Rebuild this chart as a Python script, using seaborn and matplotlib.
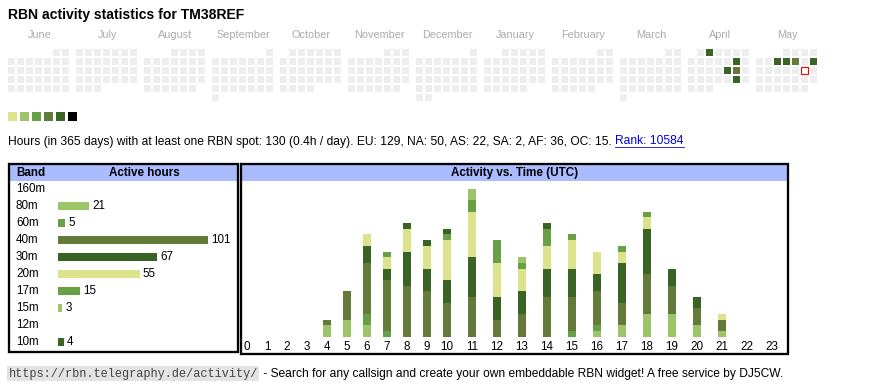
import numpy as np
import pandas as pd
import seaborn as sns
import matplotlib.pyplot as plt
from matplotlib.colors import ListedColormap
from matplotlib.patches import Rectangle

# DATA
callsign = 'TM38REF'
months = ['June', 'July', 'August', 'September', 'October', 'November',
          'December', 'January', 'February', 'March', 'April', 'May']
first_month = '2024-06-01'
active_days = ['2025-04-02', '2025-04-12', '2025-04-18', '2025-04-19', '2025-04-26',
               '2025-05-07', '2025-05-08', '2025-05-09', '2025-05-11']
active_levels = [5, 5, 5, 4, 5, 5, 5, 4, 5]
today = '2025-05-17'
level_colors = ['#dde38c', '#9ec46a', '#68a045', '#637a3a', '#3a6426', '#000000']

bands = ['160m', '80m', '60m', '40m', '30m', '20m', '17m', '15m', '12m', '10m']
band_hours = [0, 21, 5, 101, 67, 55, 15, 3, 0, 4]
band_colors = ['#3a6426', '#9ec46a', '#68a045', '#637a3a', '#3a6426',
               '#dde38c', '#68a045', '#9ec46a', '#637a3a', '#3a6426']

# active hours per UTC hour, per band (160m and 12m empty)
utc_hours = list(range(24))
h80 = [0, 0, 0, 0, 2, 3, 2, 0, 0, 0, 0, 0, 0, 0, 0, 0, 1, 2, 4, 4, 2, 1, 0, 0]
h60 = [0, 0, 0, 0, 0, 0, 2, 1, 0, 0, 0, 0, 0, 0, 0, 1, 1, 0, 0, 0, 0, 0, 0, 0]
h40 = [0, 0, 0, 0, 1, 5, 9, 9, 9, 8, 6, 7, 3, 4, 7, 6, 6, 4, 7, 5, 3, 2, 0, 0]
h30 = [0, 0, 0, 0, 0, 0, 3, 2, 6, 4, 4, 7, 4, 4, 5, 5, 3, 7, 8, 3, 2, 0, 0, 0]
h20 = [0, 0, 0, 0, 0, 0, 2, 2, 4, 4, 7, 8, 6, 4, 4, 5, 4, 2, 2, 0, 0, 1, 0, 0]
h17 = [0, 0, 0, 0, 0, 0, 0, 1, 0, 0, 1, 2, 4, 1, 3, 1, 0, 1, 1, 0, 0, 0, 0, 0]
h15 = [0, 0, 0, 0, 0, 0, 0, 0, 0, 0, 0, 2, 0, 1, 0, 0, 0, 0, 0, 0, 0, 0, 0, 0]
h10 = [0, 0, 0, 0, 0, 0, 0, 0, 1, 1, 1, 0, 0, 0, 1, 0, 0, 0, 0, 0, 0, 0, 0, 0]
stack_bands = ['80m', '60m', '40m', '30m', '20m', '17m', '15m', '10m']
stack_values = [h80, h60, h40, h30, h20, h17, h15, h10]

stats_text = ('Hours (in 365 days) with at least one RBN spot: 130 (0.4h / day). '
              'EU: 129, NA: 50, AS: 22, SA: 2, AF: 36, OC: 15. ')
rank_text = 'Rank: 10584'
footer_url = 'https://rbn.telegraphy.de/activity/'
footer_text = ' - Search for any callsign and create your own embeddable RBN widget! A free service by DJ5CW.'

# FIGURE
plt.rcParams['font.family'] = ['Liberation Sans', 'DejaVu Sans']
W, H = 870, 390
PX = 0.72  # points per pixel at dpi 100
fig = plt.figure(figsize=(W / 100, H / 100), dpi=100)


def px_axes(x, y, w, h):
    return fig.add_axes([x / W, 1 - (y + h) / H, w / W, h / H])


bg = px_axes(0, 0, W, H)
bg.set_xlim(0, W)
bg.set_ylim(H, 0)
bg.axis('off')

bg.text(8, 15.5, 'RBN activity statistics for ' + callsign, fontsize=10.1,
        fontweight='bold', va='center')

# CALENDAR
cal_cmap = ListedColormap(['#eeeeee'] + level_colors)
level_map = dict(zip(pd.to_datetime(active_days), active_levels))
today_ts = pd.Timestamp(today)
for m, start in enumerate(pd.date_range(first_month, periods=12, freq='MS')):
    days = pd.date_range(start, start + pd.offsets.MonthEnd(0))
    grid = np.full((6, 7), np.nan)
    for d in days:
        idx = d.day - 1 + start.weekday()
        grid[idx // 7, idx % 7] = level_map.get(d, 0)
    x0 = 8 + 68 * m
    ax = px_axes(x0 - 1, 48, 63, 54)
    sns.heatmap(grid, mask=np.isnan(grid), cmap=cal_cmap, vmin=-0.5, vmax=6.5,
                cbar=False, linewidths=2 * PX, linecolor='white',
                xticklabels=False, yticklabels=False, ax=ax)
    if today_ts in days:
        idx = today_ts.day - 1 + start.weekday()
        ax.add_patch(Rectangle((idx % 7 + 1 / 9, idx // 7 + 1 / 9), 7 / 9, 7 / 9,
                               facecolor='white', edgecolor='red', lw=1.1 * PX))
    bg.text(x0 + 31.5, 35.5, months[m], fontsize=7.8, color='#aaaaaa',
            ha='center', va='center')

# level legend
ax_leg = px_axes(6.5, 110, 72, 12)
sns.heatmap(np.arange(1, 7).reshape(1, 6), cmap=ListedColormap(level_colors),
            vmin=0.5, vmax=6.5, cbar=False, linewidths=3 * PX, linecolor='white',
            xticklabels=False, yticklabels=False, ax=ax_leg)

# stats line
t1 = bg.text(8, 141.5, stats_text, fontsize=8.62, va='center')
fig.canvas.draw()
r = fig.canvas.get_renderer()
x_end = t1.get_window_extent(r).x1
t2 = bg.text(x_end, 141.5, rank_text, fontsize=8.62, va='center', color='#0000ee')
e2 = t2.get_window_extent(r)
bg.plot([e2.x0, e2.x1], [147, 147], color='#0000ee', lw=0.8 * PX)

# boxes
bg.add_patch(Rectangle((10, 165.3), 227, 15.4, color='#aabbff', lw=0))
bg.add_patch(Rectangle((241.5, 165.3), 546.5, 15.4, color='#aabbff', lw=0))
bg.add_patch(Rectangle((9.2, 164.3), 228.6, 187.4, fill=False, ec='black', lw=2.3 * PX))
bg.add_patch(Rectangle((241, 164.3), 547, 189.8, fill=False, ec='black', lw=2.3 * PX))
bg.text(16, 173, 'Band', fontsize=8.4, fontweight='bold', va='center')
bg.text(144, 173, 'Active hours', fontsize=8.4, fontweight='bold', va='center', ha='center')
bg.text(514.5, 173, 'Activity vs. Time (UTC)', fontsize=8.4, fontweight='bold',
        va='center', ha='center')

# BAND TABLE
scale = 1.485  # px per hour
ax_band = px_axes(10, 180.5, 226, 170)
sns.barplot(x=band_hours, y=bands, hue=bands, palette=band_colors, legend=False,
            orient='h', width=0.42, saturation=1, errorbar=None, ax=ax_band)
ax_band.set_xlim(-(58 - 10) / scale, (236 - 58) / scale)
ax_band.set_ylim(9.5, -0.5)
ax_band.axis('off')
for i, (b, v) in enumerate(zip(bands, band_hours)):
    ax_band.text((16 - 58) / scale, i, b, fontsize=8.4, va='center')
    if v > 0:
        ax_band.text(v + 3 / scale, i, str(v), fontsize=8.4, va='center')

# ACTIVITY VS TIME
unit = 5.68  # px per hour count
hour_x = [247 + 20 * h if h <= 10 else 447 + 25 * (h - 10) for h in utc_hours]
ax_act = px_axes(242, 181, 545, 155.7)
cum = np.cumsum(np.array(stack_values), axis=0)
for k in range(len(stack_bands) - 1, -1, -1):
    c = band_colors[bands.index(stack_bands[k])]
    sns.barplot(x=hour_x, y=cum[k], color=c, native_scale=True, width=0.4,
                saturation=1, errorbar=None, ax=ax_act)
ax_act.set_xlim(242, 787)
ax_act.set_ylim(0, 155.7 / unit)
ax_act.set_xticks(hour_x, labels=[str(h) for h in utc_hours])
ax_act.tick_params(axis='x', length=0, pad=3.2, labelsize=8.4)
ax_act.set_yticks([])
ax_act.set_xlabel('')
ax_act.set_ylabel('')
for s in ax_act.spines.values():
    s.set_visible(False)
ax_act.set_facecolor('none')

# FOOTER
t3 = bg.text(8.5, 373.5, footer_url, fontsize=8.55, family=['Liberation Mono', 'DejaVu Sans Mono'],
             color='#444444', va='center',
             bbox=dict(boxstyle='square,pad=0.12', fc='#e3e3e3', ec='none'))
fig.canvas.draw()
e3 = t3.get_bbox_patch().get_window_extent(r)
bg.text(e3.x1 + 1, 373.5, footer_text, fontsize=8.68, va='center')

fig.savefig('out.png', dpi=100)
